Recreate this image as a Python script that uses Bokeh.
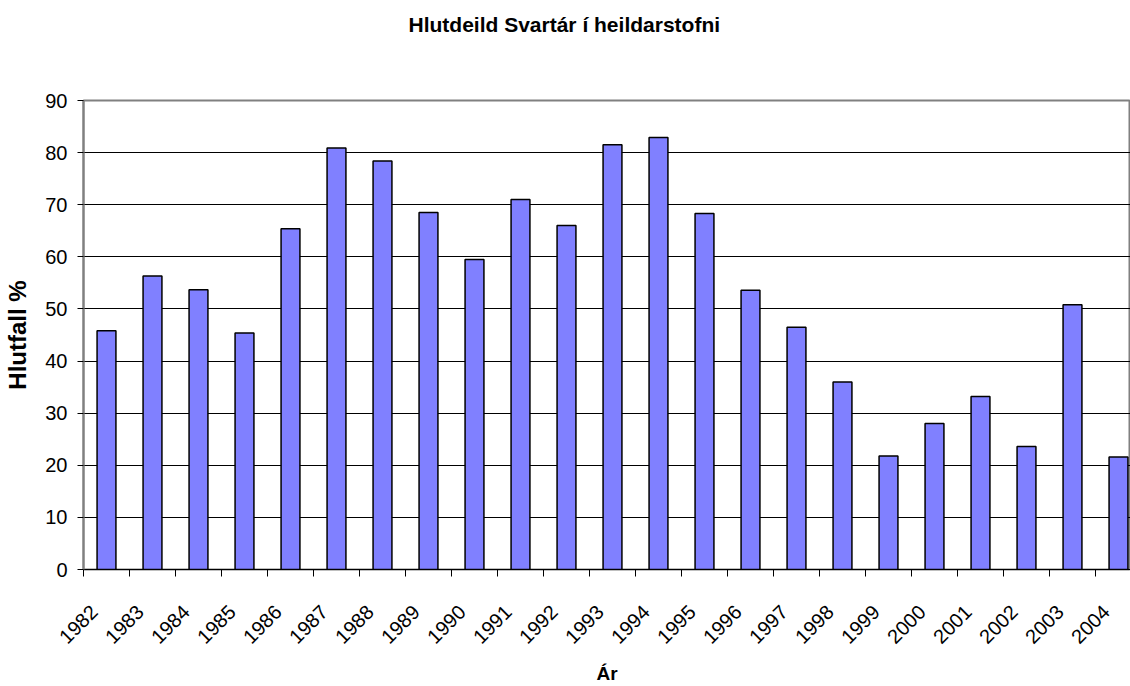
from math import pi
from bokeh.plotting import figure
from bokeh.models import FixedTicker, Range1d, ColumnDataSource, Title
from bokeh.embed import file_html
from bokeh.resources import INLINE

# ---- data ----
years = [1982, 1983, 1984, 1985, 1986, 1987, 1988, 1989, 1990, 1991, 1992,
         1993, 1994, 1995, 1996, 1997, 1998, 1999, 2000, 2001, 2002, 2003, 2004]
values = [45.8, 56.3, 53.7, 45.4, 65.4, 80.9, 78.4, 68.5, 59.5, 71.0, 66.0,
          81.5, 82.9, 68.3, 53.6, 46.5, 36.0, 21.8, 28.0, 33.2, 23.6, 50.8, 21.6]
year_labels = [str(y) for y in years]
y_ticks = [0, 10, 20, 30, 40, 50, 60, 70, 80, 90]
title_text = "Hlutdeild Svartár í heildarstofni"
x_title = "Ár"
y_title = "Hlutfall %"

FONT = "Liberation Sans"
W, H = 1130, 686
LEFT, TOP, BOTTOM = 83, 100, 105
CAT_PX = 46.0

src = ColumnDataSource(dict(year=years, value=values))

p = figure(width=W, height=H, output_backend="svg", toolbar_location=None,
           x_range=Range1d(years[0] - 0.5, years[0] - 0.5 + (W - LEFT) / CAT_PX),
           y_range=Range1d(0, 90),
           min_border_left=LEFT, min_border_right=0, min_border_top=TOP,
           min_border_bottom=BOTTOM)
p.background_fill_color = "white"
p.border_fill_color = "white"
p.outline_line_color = "#808080"
p.outline_line_width = 2

# spacer between frame and title (pushes the title up)
p.add_layout(Title(text=" ", text_font_size="2px", standoff=61), "above")

# title
p.title.text = title_text
p.title.text_font = FONT
p.title.text_font_size = "21px"
p.title.text_font_style = "bold"
p.title.text_color = "black"
p.title.align = "left"
p.title.offset = 325
p.title.vertical_align = "bottom"
p.title.standoff = 0

p.vbar(x="year", top="value", width=0.41, bottom=0, source=src,
       fill_color="#8080FF", line_color="black", line_width=1.5)

# grid
p.xgrid.grid_line_color = None
p.ygrid.grid_line_color = "black"
p.ygrid.grid_line_width = 1
p.ygrid.ticker = FixedTicker(ticks=y_ticks)

# x axis: labels near category centres, tick marks at category boundaries
LABEL_SHIFT = 0.27
label_pos = [y - LABEL_SHIFT for y in years]
boundaries = [y - 0.5 for y in years] + [years[-1] + 0.5]
xa = p.xaxis[0]
xa.ticker = FixedTicker(ticks=label_pos, minor_ticks=boundaries)
xa.major_label_overrides = {pos: lab for pos, lab in zip(label_pos, year_labels)}
xa.major_label_orientation = pi / 4
xa.major_tick_out = 0
xa.major_tick_in = 0
xa.major_tick_line_color = None
xa.minor_tick_out = 7
xa.minor_tick_in = 0
xa.minor_tick_line_color = "black"
xa.axis_line_color = "black"
xa.axis_line_width = 1
xa.major_label_text_font = FONT
xa.major_label_text_font_size = "20px"
xa.major_label_text_color = "black"
xa.major_label_standoff = 32
xa.axis_label = x_title
xa.axis_label_text_font = FONT
xa.axis_label_text_font_size = "19px"
xa.axis_label_text_font_style = "bold"
xa.axis_label_text_color = "black"
xa.axis_label_standoff = 10

# y axis
ya = p.yaxis[0]
ya.ticker = FixedTicker(ticks=y_ticks)
ya.major_tick_out = 6
ya.major_tick_in = 0
ya.major_tick_line_color = "black"
ya.minor_tick_line_color = None
ya.axis_line_color = "#808080"
ya.axis_line_width = 2
ya.major_label_text_font = FONT
ya.major_label_text_font_size = "20px"
ya.major_label_text_color = "black"
ya.major_label_standoff = 10
ya.axis_label = y_title
ya.axis_label_text_font = FONT
ya.axis_label_text_font_size = "24px"
ya.axis_label_text_font_style = "bold"
ya.axis_label_text_color = "black"
ya.axis_label_standoff = 11

open("out.html", "w").write(file_html(p, INLINE))
